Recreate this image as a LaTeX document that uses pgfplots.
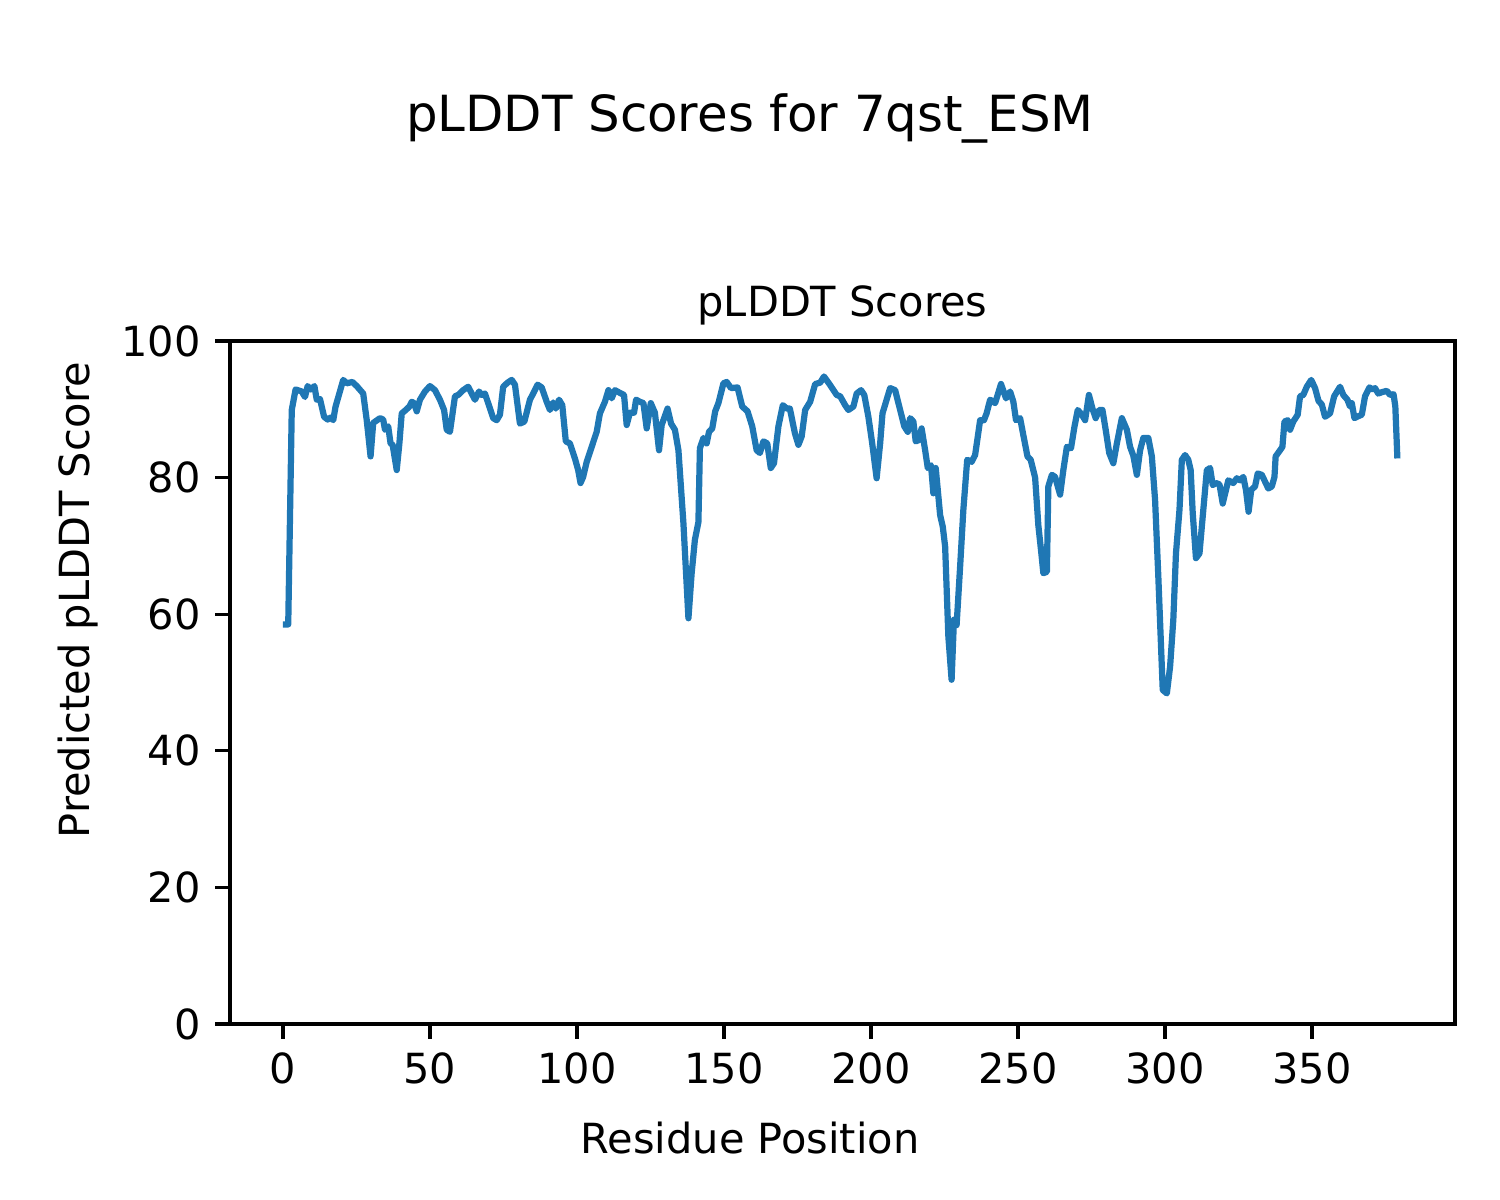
\documentclass[border=0pt]{standalone}
\usepackage{fontspec}
\setmainfont{DejaVu Sans}
\usepackage{pgfplots}
\pgfplotsset{compat=1.18}
\definecolor{tabblue}{HTML}{1F77B4}
\begin{document}
\begin{tikzpicture}
\useasboundingbox (-0.7667in,-0.5867in) rectangle (4.2333in,3.4133in);
\node[font=\fontsize{12}{14}\selectfont] at (1.7333in,3.02in) {pLDDT Scores for 7qst\_ESM};
\node[font=\fontsize{10}{12}\selectfont] at (1.7333in,-0.38in) {Residue Position};
\node[font=\fontsize{10}{12}\selectfont, rotate=90] at (-0.507in,1.4133in) {Predicted pLDDT Score};
\begin{axis}[
  at={(0,0)}, anchor=south west,
  scale only axis, width=4.0833in, height=2.2767in,
  xmin=-18.0, xmax=398.6, ymin=0, ymax=100,
  xtick={0,50,100,150,200,250,300,350},
  ytick={0,20,40,60,80,100},
  tick align=outside, major tick length=3.5pt,
  xtick pos=bottom, ytick pos=left,
  tick style={line width=0.8pt, black},
  axis line style={line width=0.8pt},
  /pgf/number format/assume math mode=true,
  ticklabel style={font=\fontsize{10}{12}\selectfont},
  title={pLDDT Scores},
  title style={font=\fontsize{10}{12}\selectfont, at={(axis description cs:0.5,1)}, anchor=base, yshift=0pt},
]
\addplot[tabblue, line width=1.5pt, line join=round] coordinates {
(0,58.5) (1.8,58.5) (3,89.9) (4.3,92.9) (6.4,92.6) (7.5,91.8) (8.4,93.4) (9.5,92.9)
(10.7,93.4) (11.5,91.4) (12.6,91.5) (14,88.9) (15.2,88.5) (16.3,88.8) (17.1,88.4) (17.9,90.4)
(20.5,94.3) (21.7,93.8) (23.6,94.0) (25.1,93.4) (27.3,92.3) (28.5,88.4) (29.8,83.1) (30.7,88.0)
(33,88.7) (34.1,88.5) (34.7,87) (35.8,87.5) (36.6,85) (37.3,84.8) (38.7,81.1) (39.6,85)
(40.4,89.4) (41.8,89.9) (43,90.4) (43.8,91.1) (44.6,90.9) (45.5,89.7) (46.6,91.4) (48.3,92.6)
(50,93.4) (51.7,92.8) (53.4,91.4) (54.8,89.9) (55.7,87) (56.8,86.7) (58.5,91.9) (59.6,92.1)
(61.3,92.8) (63,93.3) (64.2,92.3) (65.3,91.4) (66.7,92.6) (67.6,92.1) (68.7,92.3) (69.8,90.9)
(71.5,88.7) (72.7,88.4) (73.8,89.2) (74.9,93.3) (76.4,93.9) (77.8,94.3) (78.9,93.6) (80.6,87.9)
(82.1,88.2) (84,91.4) (85.1,92.3) (86.6,93.6) (88,93.2) (89.7,91.1) (90.8,89.9) (91.9,91.0)
(92.8,90.1) (93.9,91.4) (95,90.6) (96.2,85.3) (97.6,85.0) (99.3,82.8) (100.4,81.1) (101.2,79.2)
(102.1,80.1) (103.3,82.3) (105,84.5) (106.7,86.7) (107.8,89.4) (109.5,91.1) (110.7,92.8) (111.8,91.6)
(112.9,92.8) (114.6,92.4) (116,92.1) (116.9,87.7) (118,89.5) (119.4,89.5) (120.1,91.4) (121.4,91.1)
(122.6,90.9) (123.7,87.2) (125.1,90.9) (126.5,89.5) (127.9,84.0) (128.8,87.7) (130.8,90.1) (132,87.9)
(133.3,87) (134.5,84.0) (136.2,73.3) (137.9,59.4) (139,66) (140.1,70.9) (141.3,73.5) (141.8,84.3)
(143,85.8) (144.1,85.0) (144.9,86.7) (146,87.2) (147,89.7) (148.1,90.9) (149.8,93.8) (150.9,94.0)
(152.4,93.1) (154.6,93.2) (156.2,90.4) (158,89.7) (159.6,87.5) (161.1,84.0) (162.2,83.6) (163.4,85.3)
(164.7,85.0) (165.9,81.4) (167,82.1) (168.5,87.5) (170,90.6) (171.4,90.1) (172.4,90.1) (174.1,86.5)
(175.3,84.8) (176.4,86.0) (177.6,89.9) (179.3,91.1) (181,93.7) (182.7,93.9) (184,94.8) (186,93.6)
(188.3,92.1) (189.5,91.9) (191.2,90.6) (192.3,89.9) (194,90.4) (195.1,92.3) (196.6,92.8) (197.7,92.1)
(199.1,88.9) (200.4,85.0) (201.9,79.9) (203.1,85.0) (203.9,89.4) (205.3,91.4) (206.5,93.1) (208.2,92.8)
(209.9,89.9) (211.3,87.5) (212.5,86.7) (213.3,88.7) (214.4,88.2) (215.2,85.3) (216.3,85.5) (217.2,87.2)
(218.4,84.0) (219.3,81.4) (220.4,81.8) (221.2,77.7) (222,81.4) (223.5,74.5) (224.4,72.8) (225.2,69.9)
(226.3,56.7) (227.4,50.4) (228.2,59.2) (229.1,58.4) (230.3,67) (231.4,75.3) (232.7,82.6) (234.2,82.3)
(235.4,83.3) (237.1,88.4) (238.4,88.4) (239.3,89.4) (240.5,91.4) (242.2,90.9) (244.2,93.7) (245.9,91.6)
(247.3,92.6) (248.4,91.1) (249.3,88.4) (250.7,88.7) (251.8,86.2) (253.2,83.1) (254.3,82.6) (255.8,80.0)
(256.9,73.0) (257.8,69.4) (258.6,66) (259.8,66.2) (260.3,78.7) (261.5,80.4) (262.6,80.1) (264.3,77.5)
(265.4,81.1) (266.6,84.5) (268,84.3) (269.2,87.5) (270.3,89.9) (271.7,89.2) (272.8,88.4) (274.1,92.1)
(275.3,90.1) (276.4,88.7) (277.6,89.9) (278.7,89.9) (279.8,87) (281,83.6) (282.4,82.1) (283.6,85)
(285.3,88.7) (287,87) (288.1,84.5) (289.2,83.2) (290.4,80.4) (291.5,84) (292.6,85.8) (294.3,85.8)
(295.5,83.1) (296.6,76.7) (297.7,65.5) (299.2,48.9) (300.6,48.4) (301.7,52.3) (302.8,59.2) (303.7,68.9)
(304.9,75.3) (305.7,82.6) (306.8,83.3) (307.9,82.6) (308.7,81.1) (309.4,74.8) (310.5,68.2) (311.7,68.9)
(312.8,74.3) (314.2,81.1) (315.3,81.4) (316.2,78.9) (317.3,79.2) (318.5,79.0) (319.6,76.2) (321.5,79.6)
(323.2,79.2) (324.4,79.9) (325.5,79.6) (326.6,80.1) (327.5,78.2) (328.4,75) (329.3,78.2) (330.6,78.7)
(331.5,80.6) (332.9,80.4) (334,79.4) (335.1,78.4) (336.3,78.7) (337.2,80.1) (337.6,83.1) (339.1,84)
(339.9,84.5) (340.6,88.2) (341.7,88.4) (342.5,87) (343.6,88.2) (345.1,89.2) (345.9,91.9) (347,92.1)
(348.2,93.3) (349.7,94.3) (351,93.1) (352.2,91.2) (353.3,90.7) (354.4,88.9) (356.1,89.4) (357.5,91.9)
(359.5,93.3) (360.6,92.1) (362,91.4) (362.9,90.4) (363.5,90.9) (364.4,88.7) (365.8,89.0) (366.9,89.2)
(368,91.9) (369.5,93.2) (370.6,92.9) (371.4,93.1) (372.5,92.3) (373.7,92.5) (375.4,92.7) (376.5,92.1)
(377.7,92.2) (378.3,90.4) (379,82.8)
};
\end{axis}
\end{tikzpicture}
\end{document}
